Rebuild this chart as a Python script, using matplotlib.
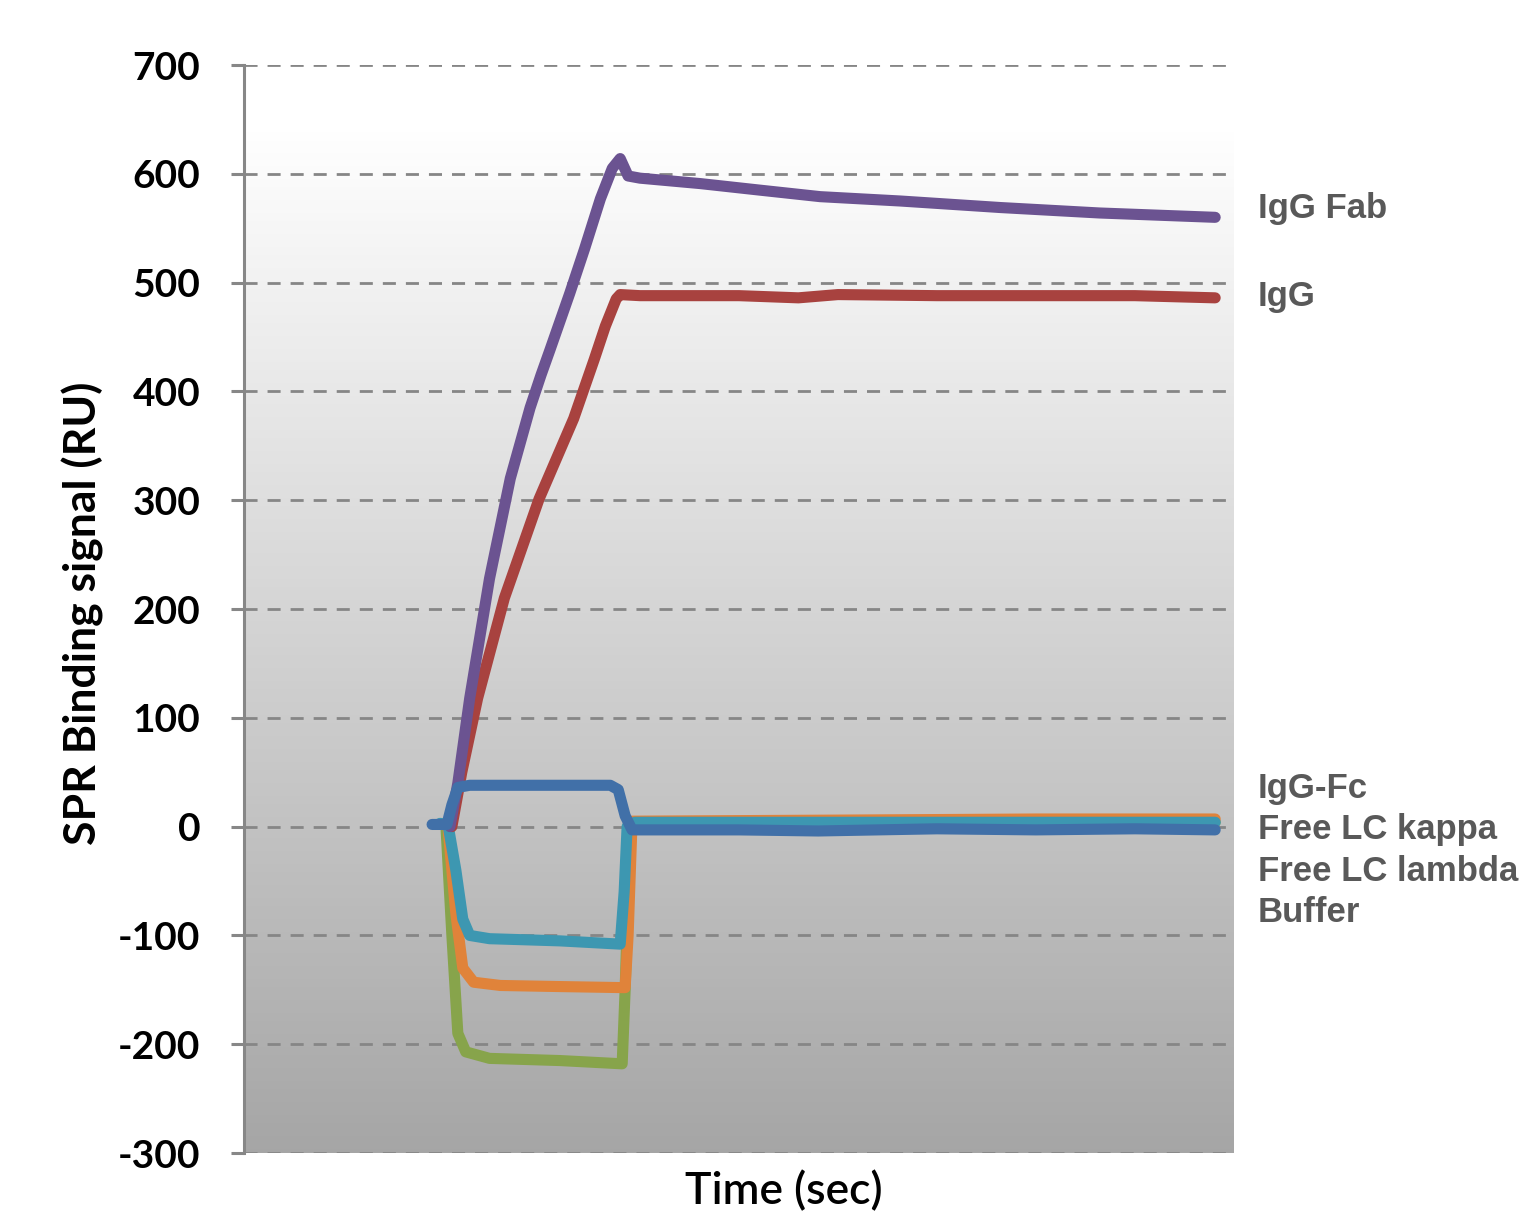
import numpy as np
import matplotlib
matplotlib.use("Agg")
import matplotlib.pyplot as plt

# ---- data (time in arbitrary seconds, signal in RU) ----
fab_t = [208, 216, 228, 248, 269, 289, 300, 309, 329, 344, 360, 372, 380, 388, 400, 461, 521, 582, 663, 764, 864, 981]
fab_y = [0, 40, 118, 228, 320, 385, 415, 438, 490, 531, 577, 605, 614, 598, 596, 591, 585, 579, 575, 569, 564, 560]

igg_t = [210, 220, 236, 263, 298, 333, 354, 365, 376, 380, 400, 500, 560, 600, 700, 800, 900, 981]
igg_y = [0, 50, 118, 210, 301, 375, 430, 460, 485, 489, 488, 488, 486, 489, 488, 488, 488, 486]

blue_t = [190, 205, 210, 216, 228, 300, 370, 378, 385, 392, 500, 580, 700, 800, 900, 981]
blue_y = [2, 2, 20, 36, 38, 38, 38, 34, 10, -3, -3, -4, -2, -3, -2, -3]

teal_t = [198, 206, 214, 221, 228, 248, 319, 380, 384, 387, 395, 600, 800, 981]
teal_y = [3, 2, -40, -85, -100, -103, -105, -108, -60, 0, 4, 4, 4, 4]

orange_t = [206, 214, 221, 232, 259, 319, 385, 388, 392, 600, 800, 981]
orange_y = [0, -80, -130, -143, -146, -147, -148, -100, 5, 6, 7, 7]

green_t = [204, 210, 216, 224, 248, 319, 382, 385, 390, 600, 800, 981]
green_y = [0, -100, -190, -207, -213, -215, -218, -150, 0, 3, 4, 4]

right_labels = ["IgG Fab", "IgG", "IgG-Fc", "Free LC kappa", "Free LC lambda", "Buffer"]
right_label_y = [568, 487, 35, -3, -41, -79]

yticks = list(range(-300, 701, 100))

# ---- figure ----
fig = plt.figure(figsize=(15.24, 12.15), dpi=100)
ax = fig.add_axes([0.1601, 0.0510, 0.6496, 0.8955])
ax.set_xlim(0, 1000)
ax.set_ylim(-300, 700)

# gradient background: white at top, gray at bottom
frac = np.linspace(0, 1, 256)
frac = np.clip((frac - 0.06) / 0.94, 0, 1)
top = np.array([1.0, 1.0, 1.0])
bot = np.array([0.65, 0.65, 0.65])
img = top[None, :] * (1 - frac[:, None]) + bot[None, :] * frac[:, None]
img = img[:, None, :]
ax.imshow(img, extent=[0, 1000, -300, 700], aspect="auto", origin="upper", zorder=0)

for v in yticks:
    ax.axhline(v, color="#868686", lw=2.0, dashes=(4.7, 3.6), zorder=1)

lw = 8.0
kw = dict(lw=lw, solid_joinstyle="round", solid_capstyle="round")
ax.plot(green_t, green_y, color="#87a44b", zorder=3, **kw)
ax.plot(orange_t, orange_y, color="#e0833a", zorder=3, **kw)
ax.plot(teal_t, teal_y, color="#3d97b1", zorder=3, **kw)
ax.plot(igg_t, igg_y, color="#a8423f", zorder=3, **kw)
ax.plot(fab_t, fab_y, color="#6b5391", zorder=3, **kw)
ax.plot(blue_t, blue_y, color="#4170a8", zorder=4, **kw)

for s in ["top", "right", "bottom"]:
    ax.spines[s].set_visible(False)
ax.spines["left"].set_color("#878787")
ax.spines["left"].set_linewidth(2.2)

ax.set_xticks([])
ax.set_yticks(yticks)
ax.set_yticklabels([str(v) for v in yticks], fontfamily="Lato", fontweight="bold", fontsize=28)
ax.tick_params(axis="y", length=9.4, width=2.2, color="#878787", pad=22)

ax.set_ylabel("SPR Binding signal (RU)", fontfamily="Lato", fontweight="bold", fontsize=32)
ax.yaxis.set_label_coords(-0.141, 0.496)
ax.set_xlabel("Time (sec)", fontfamily="Lato", fontweight="semibold", fontsize=32)
ax.xaxis.set_label_coords(0.545, -0.016)

for lab, yv in zip(right_labels, right_label_y):
    ax.text(1.024, yv, lab, transform=ax.get_yaxis_transform(), ha="left", va="center",
            fontfamily="Liberation Sans", fontweight="bold", fontsize=25, color="#595959", clip_on=False)

fig.savefig("out.png", dpi=100)
